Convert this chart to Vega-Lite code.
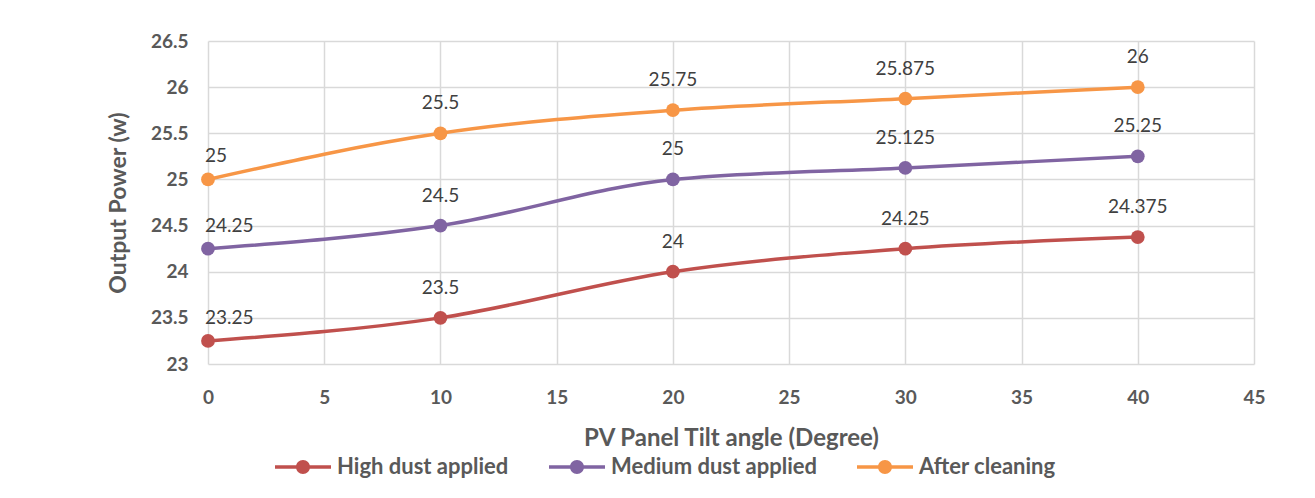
{
  "$schema": "https://vega.github.io/schema/vega-lite/v6.json",
  "width": 1046,
  "height": 323,
  "autosize": {"type": "none"},
  "padding": {"left": 208, "top": 41, "right": 61, "bottom": 134},
  "background": "white",
  "config": {
    "font": "Lato",
    "view": {"stroke": null},
    "axis": {
      "gridColor": "#D9D9D9",
      "gridWidth": 1.5,
      "domain": false,
      "ticks": false,
      "labelFlush": false,
      "labelFont": "Lato",
      "labelFontWeight": "bold",
      "labelFontSize": 19,
      "labelColor": "#595959",
      "titleFont": "Lato",
      "titleFontWeight": "bold",
      "titleFontSize": 23,
      "titleColor": "#595959"
    }
  },
  "data": {
    "values": [
      {"angle": 0, "power": 23.25, "series": "High dust applied"},
      {"angle": 10, "power": 23.5, "series": "High dust applied"},
      {"angle": 20, "power": 24, "series": "High dust applied"},
      {"angle": 30, "power": 24.25, "series": "High dust applied"},
      {"angle": 40, "power": 24.375, "series": "High dust applied"},
      {"angle": 0, "power": 24.25, "series": "Medium dust applied"},
      {"angle": 10, "power": 24.5, "series": "Medium dust applied"},
      {"angle": 20, "power": 25, "series": "Medium dust applied"},
      {"angle": 30, "power": 25.125, "series": "Medium dust applied"},
      {"angle": 40, "power": 25.25, "series": "Medium dust applied"},
      {"angle": 0, "power": 25, "series": "After cleaning"},
      {"angle": 10, "power": 25.5, "series": "After cleaning"},
      {"angle": 20, "power": 25.75, "series": "After cleaning"},
      {"angle": 30, "power": 25.875, "series": "After cleaning"},
      {"angle": 40, "power": 26, "series": "After cleaning"}
    ]
  },
  "encoding": {
    "x": {
      "field": "angle",
      "type": "quantitative",
      "scale": {"domain": [0, 45], "nice": false},
      "axis": {"values": [0, 5, 10, 15, 20, 25, 30, 35, 40, 45], "labelPadding": 24, "title": "PV Panel Tilt angle (Degree)", "titlePadding": 19, "titleFontSize": 24}
    },
    "y": {
      "field": "power",
      "type": "quantitative",
      "scale": {"domain": [23, 26.5], "nice": false, "zero": false},
      "axis": {"values": [23, 23.5, 24, 24.5, 25, 25.5, 26, 26.5], "format": "~g", "labelPadding": 20, "title": "Output Power (w)", "titlePadding": 20}
    },
    "color": {
      "field": "series",
      "type": "nominal",
      "scale": {
        "domain": ["High dust applied", "Medium dust applied", "After cleaning"],
        "range": ["#C0504D", "#8064A2", "#F79646"]
      },
      "legend": {
        "title": null,
        "orient": "none",
        "legendX": 67,
        "legendY": 412,
        "direction": "horizontal",
        "symbolType": "M-1,-0.12 L3,-0.12 L3,0.12 L-1,0.12 Z M0.5,0 A0.5,0.5 0 1,1 1.5,0 A0.5,0.5 0 1,1 0.5,0 Z",
        "symbolSize": 784,
        "symbolStrokeWidth": 0,
        "symbolOpacity": 1,
        "labelOffset": 34,
        "labelFont": "Lato",
        "labelFontWeight": "bold",
        "labelFontSize": 22,
        "labelColor": "#595959",
        "columnPadding": 40,
        "labelLimit": 400
      }
    }
  },
  "layer": [
    {
      "mark": {"type": "line", "interpolate": "monotone", "strokeWidth": 3.5}
    },
    {
      "mark": {"type": "point", "filled": true, "opacity": 1, "size": 190}
    },
    {
      "transform": [{"filter": "datum.angle > 0"}],
      "mark": {"type": "text", "dy": -30, "fontSize": 19, "color": "#404040", "font": "Lato"},
      "encoding": {
        "text": {"field": "power", "type": "quantitative"},
        "color": {"value": "#404040"}
      }
    },
    {
      "transform": [{"filter": "datum.angle == 0"}],
      "mark": {"type": "text", "dy": -23, "dx": -3, "align": "left", "fontSize": 19, "color": "#404040", "font": "Lato"},
      "encoding": {
        "text": {"field": "power", "type": "quantitative"},
        "color": {"value": "#404040"}
      }
    }
  ]
}
